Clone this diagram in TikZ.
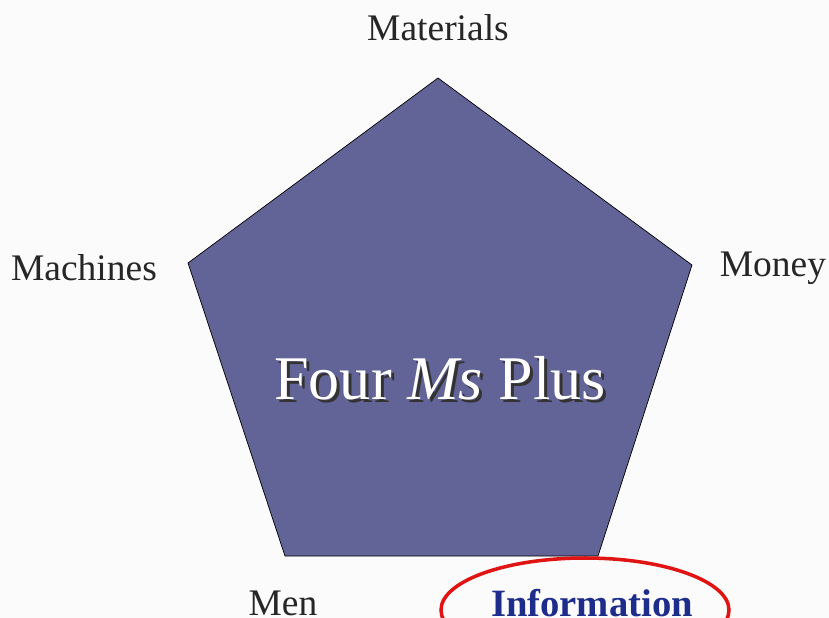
\documentclass[tikz,border=0pt]{standalone}
\usepackage{fontspec}
\setmainfont{Liberation Serif}
\usepackage{tikz}
\usetikzlibrary{positioning}
\definecolor{pentblue}{RGB}{98,99,150}
\definecolor{infoblue}{RGB}{30,45,140}
\definecolor{circred}{RGB}{225,20,20}

\begin{document}
\begin{tikzpicture}[x=0.03cm, y=-0.03cm,
    mlabel/.style={font=\fontsize{32}{34}\selectfont, text=black!85, inner sep=0pt}]
    \clip (0,0) rectangle (829,618);
    \useasboundingbox (0,0) rectangle (829,618);
    \fill[white!97!gray] (0,0) rectangle (829,618);
    % pentagon corners
    \coordinate (top) at (438,78);
    \coordinate (left) at (188,263);
    \coordinate (right) at (692,265);
    \coordinate (botleft) at (285,556);
    \coordinate (botright) at (598,556);
    \draw[fill=pentblue, line width=0.6pt] (top) -- (right) -- (botright) -- (botleft) -- (left) -- cycle;
    % title with shadow
    \node[font=\fontsize{53}{55}\selectfont, text=black!80, inner sep=0pt] (shadow) at (443,381) {Four \textit{Ms} Plus};
    \node[font=\fontsize{53}{55}\selectfont, text=white, inner sep=0pt] (title) at (440,378) {Four \textit{Ms} Plus};
    % labels
    \node[mlabel] (materials) at (438,28) {Materials};
    \node[mlabel] (machines) at (84,268) {Machines};
    \node[mlabel] (money) at (773,268) {Money};
    \node[mlabel] (men) at (283,603) {Men};
    \node[mlabel, text=infoblue, font=\fontsize{33}{35}\selectfont\bfseries] (info) at (592,603) {Information};
    \draw[circred, line width=3pt] (585,610) ellipse [x radius=144, y radius=52];
\end{tikzpicture}
\end{document}
